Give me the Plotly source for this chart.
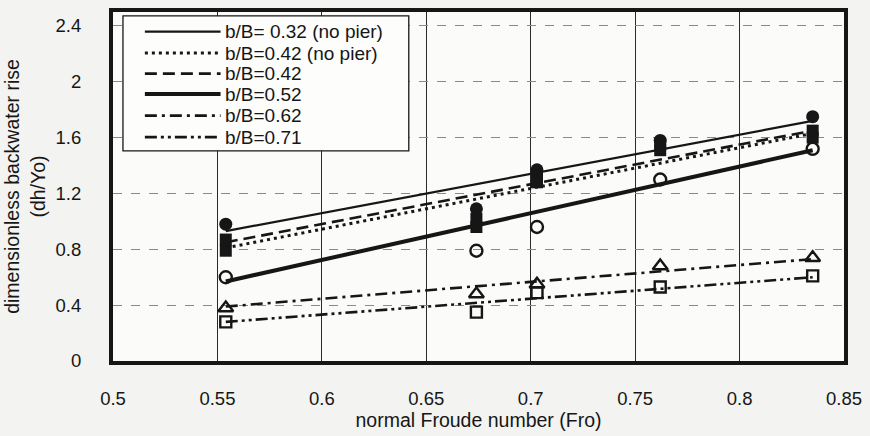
import plotly.graph_objects as go

# ---- data ----
froude = [0.554, 0.674, 0.703, 0.762, 0.835]

series_names = ["b/B= 0.32 (no pier)", "b/B=0.42 (no pier)", "b/B=0.42",
                "b/B=0.52", "b/B=0.62", "b/B=0.71"]

# measured points
y_032_nopier = [0.98, 1.09, 1.37, 1.58, 1.75]
y_042_nopier = [0.79, 0.96, 1.28, 1.51, 1.60]
y_042 = [0.87, 1.02, 1.32, 1.55, 1.65]
y_052 = [0.60, 0.79, 0.96, 1.30, 1.52]
y_062 = [0.38, 0.48, 0.55, 0.68, 0.74]
y_071 = [0.28, 0.35, 0.49, 0.53, 0.61]

# trend lines (end points)
trend_x = [0.554, 0.835]
trend_032_nopier = [0.93, 1.72]
trend_042_nopier = [0.81, 1.63]
trend_042 = [0.85, 1.65]
trend_052 = [0.57, 1.51]
trend_062 = [0.39, 0.73]
trend_071 = [0.28, 0.60]

x_ticks = [0.5, 0.55, 0.6, 0.65, 0.7, 0.75, 0.8, 0.85]
y_ticks = [0, 0.4, 0.8, 1.2, 1.6, 2.0, 2.4]
y_tick_text = ["0", "0.4", "0.8", "1.2", "1.6", "2", "2.4"]

INK = "#161616"
FONT = "Arial, Liberation Sans, sans-serif"

points = [y_032_nopier, y_042_nopier, y_042, y_052, y_062, y_071]
trends = [trend_032_nopier, trend_042_nopier, trend_042, trend_052, trend_062, trend_071]
markers = [
    dict(symbol="circle", size=13, color=INK),
    dict(symbol="square", size=12, color=INK),
    dict(symbol="square", size=12, color=INK),
    dict(symbol="circle-open", size=12, color=INK, line=dict(width=2.4, color=INK)),
    dict(symbol="triangle-up-open", size=13, color=INK, line=dict(width=2.4, color=INK)),
    dict(symbol="square-open", size=11, color=INK, line=dict(width=2.4, color=INK)),
]
lines = [
    dict(color=INK, width=2.2, dash="solid"),
    dict(color=INK, width=3, dash="3px,4px"),
    dict(color=INK, width=2.6, dash="12px,6px"),
    dict(color=INK, width=4, dash="solid"),
    dict(color=INK, width=2.6, dash="12px,5px,3px,5px"),
    dict(color=INK, width=2.6, dash="12px,4px,3px,4px,3px,4px"),
]

fig = go.Figure()

for name, ys, mk in zip(series_names, points, markers):
    fig.add_trace(go.Scatter(x=froude, y=ys, mode="markers", marker=mk,
                             showlegend=False, name=name, cliponaxis=False))

for name, ty, ln in zip(series_names, trends, lines):
    fig.add_trace(go.Scatter(x=trend_x, y=ty, mode="lines", line=ln, name=name,
                             showlegend=False))

# ---- hand-drawn legend box (layout only), matching the reference look ----
PL, PR, PT, PB = 113, 847, 8, 365


def px_x(px):
    return (px - PL) / (PR - PL)


def px_y(py):
    return (PB - py) / (PB - PT)


shapes = [dict(type="rect", xref="paper", yref="paper",
               x0=px_x(123), x1=px_x(410), y0=px_y(150), y1=px_y(12),
               fillcolor="#fdfdfc", line=dict(color=INK, width=1.3), layer="above")]
annotations = []
row_y = [28, 50, 71, 92, 114, 136]
for name, ln, ry in zip(series_names, lines, row_y):
    shapes.append(dict(type="line", xref="paper", yref="paper",
                       x0=px_x(145), x1=px_x(221), y0=px_y(ry), y1=px_y(ry),
                       line=dict(color=ln["color"], width=ln["width"], dash=ln["dash"]),
                       layer="above"))
    annotations.append(dict(xref="paper", yref="paper", x=px_x(223), y=px_y(ry),
                            xanchor="left", yanchor="middle", text=name, showarrow=False,
                            font=dict(family=FONT, size=19, color=INK)))

fig.update_layout(
    width=870, height=436,
    margin=dict(l=PL, r=870 - PR, t=PT, b=436 - PB),
    paper_bgcolor="#f3f3f1",
    plot_bgcolor="#fbfbfa",
    font=dict(family=FONT, color=INK, size=18),
    showlegend=False,
    shapes=shapes,
    annotations=annotations,
)

fig.update_xaxes(
    range=[0.5, 0.85], tickvals=x_ticks,
    ticktext=[("%g" % v) for v in x_ticks],
    showgrid=True, gridcolor="#2a2a2a", gridwidth=1,
    showline=True, linecolor=INK, linewidth=4, mirror=True,
    ticks="", zeroline=False, ticklabelstandoff=18,
    tickfont=dict(size=18.5, family=FONT, color=INK),
    title=dict(text="normal Froude number (Fro)", font=dict(size=19.5, family=FONT, color=INK),
               standoff=5),
)
fig.update_yaxes(
    range=[0, 2.5], tickvals=y_ticks, ticktext=y_tick_text,
    showgrid=True, gridcolor="#8a8a8a", gridwidth=1, griddash="dash",
    showline=True, linecolor=INK, linewidth=4, mirror=True,
    ticks="", zeroline=False, ticklabelstandoff=24,
    tickfont=dict(size=18.5, family=FONT, color=INK),
    title=dict(text="dimensionless backwater rise<br>(dh/Yo)",
               font=dict(size=19.5, family=FONT, color=INK), standoff=6),
)

fig.write_html("out.html")
